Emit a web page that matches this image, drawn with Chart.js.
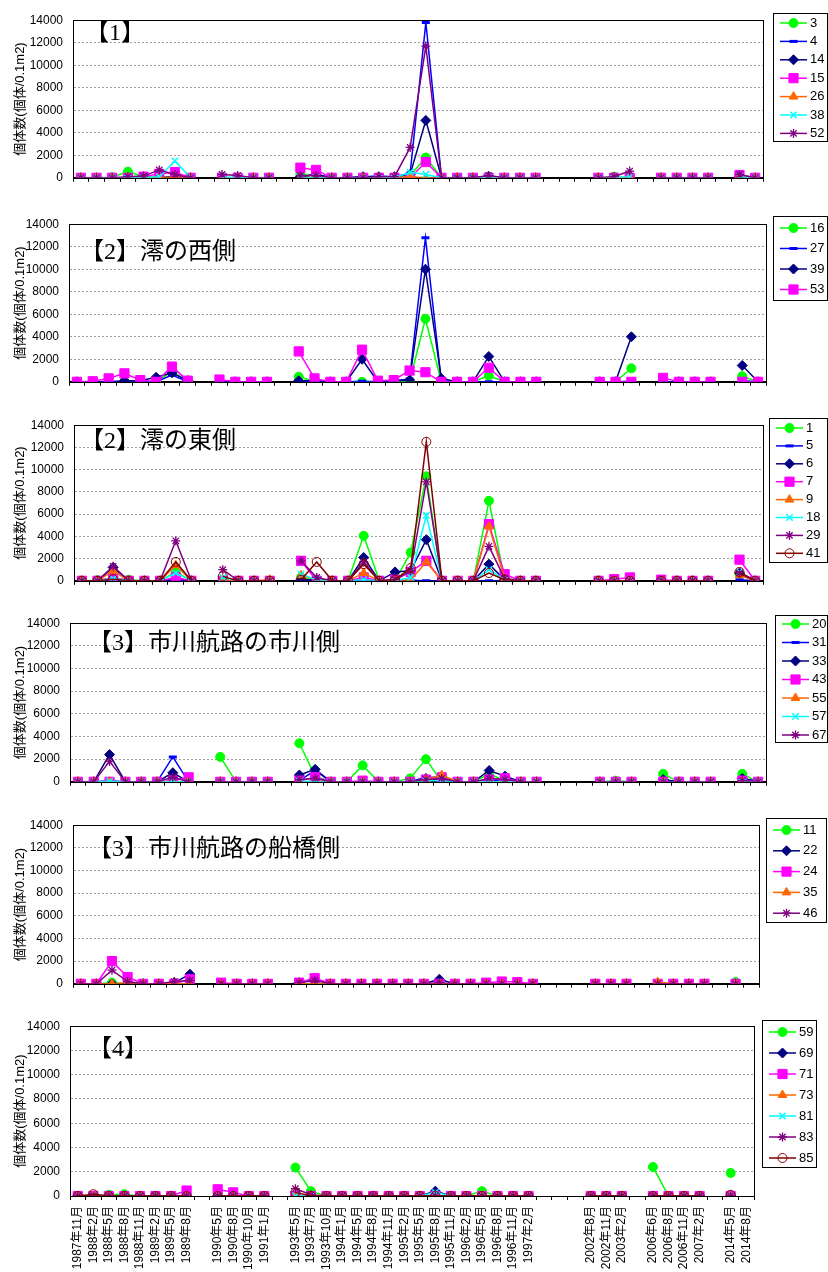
<!DOCTYPE html>
<html>
<head>
<meta charset="utf-8">
<script src="https://cdn.jsdelivr.net/npm/chart.js@4"></script>
<style>
  body { margin: 0; background: #fff; width: 828px; height: 1272px; position: relative; overflow: hidden; }
  .panel { position: absolute; left: 0; width: 828px; }
</style>
</head>
<body>
<script>
// x軸の目盛り（空欄は調査なしの区切り）
const tickLabels = ['1987年11月','1988年2月','1988年5月','1988年8月','1988年11月','1989年2月','1989年5月','1989年8月','',
  '1990年5月','1990年8月','1990年10月','1991年1月','',
  '1993年5月','1993年7月','1993年10月','1994年1月','1994年5月','1994年8月','1994年11月','1995年2月',
  '1995年5月','1995年8月','1995年11月','1996年2月','1996年5月','1996年8月','1996年11月','1997年2月','','','',
  '2002年8月','2002年11月','2003年2月','',
  '2006年6月','2006年8月','2006年11月','2007年2月','',
  '2014年5月','2014年8月'];

// 【1】 st 3,4,14,15,26,38,52
const p1Names = ['3','4','14','15','26','38','52'];
const p1_3  = [0,0,50,550,100,100,100,0, 0,0,0,0, 300,200,0,0,0,0,0,200,1800,0,0,0,100,0,0,0, 0,100,0, 0,0,0,0, 100,0];
const p1_4  = [0,0,0,0,0,0,0,0, 0,0,0,0, 100,300,0,0,100,150,100,400,13800,0,0,0,100,0,0,0, 0,0,0, 0,0,0,0, 100,0];
const p1_14 = [0,0,0,0,0,0,100,0, 0,0,0,0, 100,300,0,0,100,100,100,300,5100,0,0,0,100,0,0,0, 0,0,0, 0,0,0,0, 150,0];
const p1_15 = [0,0,0,0,100,350,500,0, 0,0,0,0, 900,700,0,0,0,0,0,0,1400,0,0,0,0,0,0,0, 0,0,0, 0,0,0,0, 250,0];
const p1_26 = [0,0,0,0,0,0,50,0, 0,0,0,0, 50,0,0,0,0,0,0,100,0,0,0,0,0,0,0,0, 0,0,0, 0,0,0,0, 100,0];
const p1_38 = [0,0,0,0,0,100,1500,0, 100,0,0,0, 0,0,0,0,0,0,0,500,300,0,0,0,0,0,0,0, 0,0,100, 0,0,0,0, 100,0];
const p1_52 = [0,0,0,100,150,700,300,0, 300,200,0,0, 200,200,0,0,0,100,100,2700,11700,0,0,0,200,0,0,0, 0,100,600, 0,0,0,0, 300,0];

// 【2】澪の西側
const p2Names = ['16','27','39','53'];
const p2_16 = [0,0,0,0,0,0,900,100, 0,0,0,0, 450,50,0,0,0,0,0,0,5600,0,0,0,550,0,0,0, 0,0,1200, 0,0,0,0, 500,0];
const p2_27 = [0,0,0,0,0,0,600,0, 0,0,0,0, 100,0,0,0,50,0,100,250,12800,100,0,0,0,0,0,0, 0,0,50, 0,0,0,0, 100,0];
const p2_39 = [0,0,0,100,100,400,800,100, 0,0,0,0, 100,100,0,0,2000,0,100,150,10000,300,0,0,2250,0,0,0, 0,0,4000, 0,0,0,0, 1450,0];
const p2_53 = [0,50,300,750,150,0,1350,100, 200,0,0,0, 2700,300,0,0,2850,100,150,1000,850,0,0,0,1250,0,0,0, 0,0,0, 350,0,0,0, 0,0];

// 【2】澪の東側
const p3Names = ['1','5','6','7','9','18','29','41'];
const p3_1  = [0,50,200,100,0,0,800,0, 0,0,0,0, 300,0,0,0,4050,0,0,2550,9400,0,0,0,7200,100,0,0, 0,0,0, 0,0,0,0, 600,0];
const p3_5  = [0,0,0,0,0,0,100,0, 0,0,0,0, 50,0,0,0,0,0,0,50,0,0,0,0,0,0,0,0, 0,0,0, 0,0,0,0, 100,0];
const p3_6  = [0,0,1200,0,0,0,200,0, 0,0,0,0, 100,100,0,0,2100,0,800,900,3700,0,0,0,1500,100,0,0, 0,0,0, 0,0,0,0, 700,0];
const p3_7  = [0,0,300,0,0,0,300,0, 0,0,0,0, 1800,0,0,0,300,0,100,800,1800,0,0,0,5100,600,0,0, 0,150,300, 100,0,0,0, 1900,0];
const p3_9  = [0,0,900,0,0,0,1400,0, 100,0,0,100, 500,100,0,0,700,0,0,100,1700,0,0,0,4900,200,0,0, 0,0,0, 0,0,0,0, 500,0];
const p3_18 = [0,0,200,0,0,0,700,0, 300,0,0,0, 600,100,0,0,100,0,0,300,5900,0,0,0,1000,100,0,0, 0,0,0, 0,0,0,0, 800,0];
const p3_29 = [0,0,1300,0,0,0,3600,0, 1000,0,0,0, 1800,300,0,0,1700,0,100,900,8900,0,0,0,3100,200,0,0, 0,0,0, 0,0,0,0, 700,0];
const p3_41 = [0,0,150,0,0,0,1700,0, 400,0,0,0, 100,1700,0,0,1500,0,100,1150,12500,0,0,0,700,100,0,0, 0,0,0, 0,0,0,0, 800,0];

// 【3】市川航路の市川側
const p4Names = ['20','31','33','43','55','57','67'];
const p4_20 = [0,0,0,0,0,0,0,0, 2200,0,0,0, 3400,500,0,0,1450,0,0,300,2000,0,0,0,700,100,0,0, 0,100,0, 700,0,0,0, 700,0];
const p4_31 = [0,0,100,0,0,0,2200,0, 0,0,0,0, 100,1000,0,0,0,0,0,0,400,400,0,0,100,200,0,0, 0,0,0, 0,0,0,0, 300,50];
const p4_33 = [0,0,2400,0,0,0,800,0, 0,0,0,0, 600,1100,0,0,0,0,0,0,300,200,0,0,1000,500,0,0, 0,0,0, 200,0,0,0, 300,0];
const p4_43 = [0,0,0,0,0,0,100,400, 0,0,0,0, 100,400,0,0,100,0,0,0,200,400,0,0,200,300,0,0, 0,0,0, 0,0,0,0, 100,0];
const p4_55 = [0,0,0,0,0,0,0,0, 0,0,0,0, 0,0,0,0,0,0,0,0,200,600,0,0,0,0,0,0, 0,0,0, 0,0,0,0, 0,0];
const p4_57 = [0,0,50,0,0,0,0,0, 0,0,0,0, 100,0,0,0,0,0,0,0,100,100,0,0,0,0,0,0, 0,0,0, 0,0,0,0, 0,0];
const p4_67 = [0,0,1800,0,0,0,400,0, 0,0,0,0, 200,300,0,0,0,0,0,0,200,300,0,0,300,200,0,0, 0,0,0, 0,0,0,0, 100,0];

// 【3】市川航路の船橋側
const p5Names = ['11','22','24','35','46'];
const p5_11 = [0,0,100,0,0,0,0,0, 0,0,0,0, 0,0,0,0,0,0,0,0,0,0,0,0,0,0,0,0, 0,0,0, 0,0,0,0, 150,null];
const p5_22 = [0,0,0,0,0,0,100,850, 0,0,0,0, 100,450,0,0,0,0,0,0,0,400,0,0,0,0,0,0, 0,0,0, 0,0,0,0, 0,null];
const p5_24 = [0,0,2000,600,0,0,0,400, 100,0,0,0, 100,500,0,0,0,0,0,0,0,0,0,0,100,200,150,0, 0,0,0, 0,0,0,0, 0,null];
const p5_35 = [0,0,0,100,0,0,0,0, 0,0,0,0, 0,0,0,0,0,0,0,0,0,0,0,0,0,0,0,0, 0,0,0, 150,0,0,0, 0,null];
const p5_46 = [0,0,1200,200,0,0,200,300, 0,0,0,0, 100,300,0,0,0,0,0,0,0,100,0,0,0,0,0,0, 0,0,0, 0,0,0,0, 0,null];

// 【4】
const p6Names = ['59','69','71','73','81','83','85'];
const p6_59 = [0,0,100,150,0,0,0,0, 0,0,0,0, 2350,400,0,0,0,0,0,0,0,0,0,0,400,0,0,0, 0,0,0, 2400,0,0,0, 1900,null];
const p6_69 = [0,0,0,0,0,0,0,0, 0,0,0,0, 0,0,0,0,0,0,0,0,0,400,0,0,0,0,0,0, 0,0,0, 0,0,0,0, 0,null];
const p6_71 = [0,0,0,0,0,0,0,450, 550,300,0,0, 0,0,0,0,0,0,0,0,0,0,0,0,0,0,0,0, 0,0,0, 0,0,0,0, 0,null];
const p6_73 = [0,0,0,0,0,0,0,0, 0,0,0,0, 0,0,0,0,0,0,0,0,0,0,0,0,0,0,0,0, 0,0,0, 0,0,0,0, 0,null];
const p6_81 = [0,0,0,0,0,0,0,0, 0,0,0,0, 0,0,0,0,0,0,0,0,0,300,0,0,0,0,0,0, 0,0,0, 0,0,0,0, 0,null];
const p6_83 = [0,0,0,0,0,0,0,0, 0,0,0,0, 600,100,0,0,0,0,0,0,0,0,0,0,0,0,0,0, 0,0,0, 0,0,0,0, 0,null];
const p6_85 = [0,150,0,0,0,0,0,0, 0,0,0,0, 300,0,0,0,0,0,0,0,0,0,0,0,0,0,0,0, 0,0,0, 0,0,0,0, 100,null];

// 空欄の位置に null を入れて目盛りに合わせる
function expand(vals) {
  const out = [];
  let k = 0;
  for (const lab of tickLabels) out.push(lab === '' ? null : vals[k++]);
  return out;
}

const STYLE = {
  green:   { color: '#00ff00', point: 'circle',   r: 4.5, bw: 1 },
  blue:    { color: '#0000ff', point: 'line',     r: 4,   bw: 3 },
  navy:    { color: '#000080', point: 'rectRot',  r: 5,   bw: 1 },
  magenta: { color: '#ff00ff', point: 'rect',     r: 6.5, bw: 1 },
  orange:  { color: '#ff6600', point: 'triangle', r: 5,   bw: 1 },
  cyan:    { color: '#00ffff', point: 'crossRot', r: 4.5, bw: 1.5 },
  purple:  { color: '#800080', point: 'star',     r: 4.5, bw: 1.3 },
  brown:   { color: '#800000', point: 'circle',   r: 4.5, bw: 1, hollow: true }
};

const panels = [
  { title: '【1】', names: p1Names, series: [p1_3, p1_4, p1_14, p1_15, p1_26, p1_38, p1_52],
    styles: ['green','blue','navy','magenta','orange','cyan','purple'],
    top: 13, bottom: 189, left: 73, right: 763, tx: 85, ty: 34,
    lg: { x: 773, y: 13, w: 54, h: 128, y0: 23, dy: 18.4 } },
  { title: '【2】澪の西側', names: p2Names, series: [p2_16, p2_27, p2_39, p2_53],
    styles: ['green','blue','navy','magenta'],
    top: 217, bottom: 393, left: 69, right: 766, tx: 80, ty: 253,
    lg: { x: 773, y: 216, w: 54, h: 84, y0: 228, dy: 20.5 } },
  { title: '【2】澪の東側', names: p3Names, series: [p3_1, p3_5, p3_6, p3_7, p3_9, p3_18, p3_29, p3_41],
    styles: ['green','blue','navy','magenta','orange','cyan','purple','brown'],
    top: 418, bottom: 592, left: 74, right: 763, tx: 80, ty: 442,
    lg: { x: 769, y: 418, w: 58, h: 144, y0: 428, dy: 17.9 } },
  { title: '【3】市川航路の市川側', names: p4Names, series: [p4_20, p4_31, p4_33, p4_43, p4_55, p4_57, p4_67],
    styles: ['green','blue','navy','magenta','orange','cyan','purple'],
    top: 616, bottom: 793, left: 70, right: 766, tx: 88, ty: 644,
    lg: { x: 775, y: 615, w: 52, h: 127, y0: 624, dy: 18.5 } },
  { title: '【3】市川航路の船橋側', names: p5Names, series: [p5_11, p5_22, p5_24, p5_35, p5_46],
    styles: ['green','navy','magenta','orange','purple'],
    top: 818, bottom: 995, left: 73, right: 759, tx: 88, ty: 850,
    lg: { x: 766, y: 818, w: 60, h: 104, y0: 830, dy: 20.8 } },
  { title: '【4】', names: p6Names, series: [p6_59, p6_69, p6_71, p6_73, p6_81, p6_83, p6_85],
    styles: ['green','navy','magenta','orange','cyan','purple','brown'],
    top: 1019, bottom: 1196, left: 70, right: 754, tx: 88, ty: 1050,
    lg: { x: 762, y: 1020, w: 54, h: 147, y0: 1032, dy: 21 } }
];

Chart.defaults.font.family = "'Liberation Sans', Arial, 'Noto Sans CJK JP', sans-serif";
Chart.defaults.color = '#000';

// 枠・パネル見出し・凡例
const decor = {
  id: 'decor',
  beforeDatasetsDraw(chart) {
    const o = chart.options.plugins.decor, c = chart.ctx;
    c.save();
    c.font = "24px 'Liberation Serif', 'Noto Sans CJK JP', serif";
    c.fillStyle = '#000';
    c.textBaseline = 'middle';
    c.fillText(o.title, o.tx, o.ty - o.top);
    c.restore();
  },
  afterDraw(chart) {
    const o = chart.options.plugins.decor, c = chart.ctx, a = chart.chartArea;
    c.save();
    c.strokeStyle = '#000';
    c.lineWidth = 1;
    c.strokeRect(Math.round(a.left) + 0.5, Math.round(a.top) + 0.5, Math.round(a.right - a.left), Math.round(a.bottom - a.top));
    const lg = o.lg;
    c.strokeRect(lg.x + 0.5, lg.y - o.top + 0.5, lg.w, lg.h);
    chart.data.datasets.forEach(function (ds, i) {
      const y = lg.y0 + i * lg.dy - o.top;
      c.strokeStyle = ds.borderColor;
      c.lineWidth = 1.5;
      c.beginPath(); c.moveTo(lg.x + 7, y); c.lineTo(lg.x + 34, y); c.stroke();
      c.fillStyle = ds.pointBackgroundColor;
      c.strokeStyle = ds.pointBorderColor;
      c.lineWidth = ds.pointBorderWidth;
      Chart.helpers.drawPoint(c, { pointStyle: ds.pointStyle, radius: ds.pointRadius, rotation: 0, borderWidth: ds.pointBorderWidth }, lg.x + 20.5, y);
      c.fillStyle = '#000';
      c.font = "13px 'Liberation Sans', Arial, sans-serif";
      c.textBaseline = 'middle';
      c.textAlign = 'left';
      c.fillText(ds.label, lg.x + 37, y);
    });
    c.restore();
  }
};

panels.forEach(function (p, idx) {
  const last = idx === panels.length - 1;
  const padTop = 10;
  const axisH = last ? 76 : 6;
  const canvasTop = p.top - padTop;
  const h = padTop + (p.bottom - p.top) + axisH;

  const div = document.createElement('div');
  div.className = 'panel';
  div.style.top = canvasTop + 'px';
  div.style.height = h + 'px';
  const cv = document.createElement('canvas');
  div.appendChild(cv);
  document.body.appendChild(div);

  const n = p.series.length;
  const datasets = p.series.map(function (vals, i) {
    const s = STYLE[p.styles[i]];
    return {
      label: p.names[i],
      data: expand(vals),
      borderColor: s.color,
      backgroundColor: s.color,
      borderWidth: 1.5,
      pointStyle: s.point,
      pointRadius: s.r,
      pointHoverRadius: s.r,
      pointBorderWidth: s.bw,
      pointBorderColor: s.color,
      pointBackgroundColor: s.hollow ? 'rgba(0,0,0,0)' : s.color,
      tension: 0,
      spanGaps: false,
      order: n - i
    };
  });

  new Chart(cv, {
    type: 'line',
    data: { labels: tickLabels, datasets: datasets },
    options: {
      responsive: true,
      maintainAspectRatio: false,
      animation: false,
      layout: { padding: { top: padTop, right: 828 - p.right, left: 0, bottom: 0 } },
      plugins: {
        legend: { display: false },
        tooltip: { enabled: false },
        decor: { title: p.title, tx: p.tx, ty: p.ty, top: canvasTop, lg: p.lg }
      },
      scales: {
        x: {
          offset: true,
          afterFit: function (s) { s.height = axisH; },
          grid: { offset: true, drawOnChartArea: false, tickLength: 4, color: '#000' },
          border: { color: '#000' },
          ticks: { display: last, autoSkip: false, maxRotation: 90, minRotation: 90, font: { size: 12 }, color: '#000', padding: 6 }
        },
        y: {
          min: 0,
          max: 14000,
          afterFit: function (s) { s.width = p.left; },
          ticks: { stepSize: 2000, font: { size: 12 }, color: '#000', padding: 10, callback: function (v) { return String(v); } },
          grid: { color: '#a0a0a0', drawTicks: false },
          border: { color: '#000', dash: [2, 2] },
          title: { display: true, text: '個体数(個体/0.1m2)', font: { size: 13 }, color: '#000', padding: { top: 13, bottom: 0 } }
        }
      }
    },
    plugins: [decor]
  });
});
</script>
</body>
</html>
